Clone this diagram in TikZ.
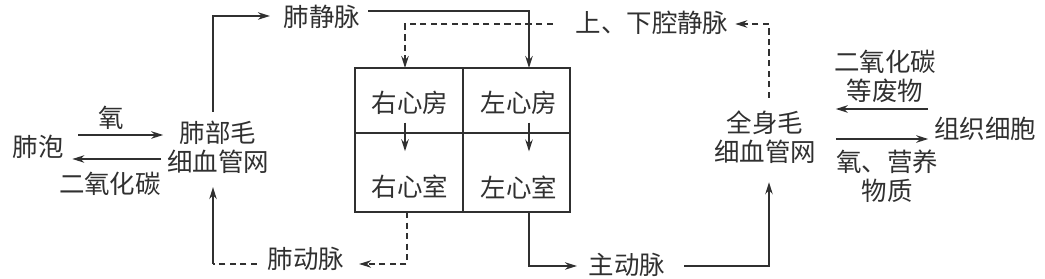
\documentclass[tikz,border=0pt]{standalone}
\usepackage{fontspec}
\setmainfont{Noto Sans CJK SC}
\usepackage{tikz}
\usetikzlibrary{arrows.meta,calc,positioning}
\definecolor{ink}{HTML}{303030}
\tikzset{organ/.style={font=\fontsize{14.5}{16.5}\selectfont,align=center,inner sep=2pt,text=ink}, note/.style={organ}, flowline/.style={draw=ink,line width=.8pt}, flow/.style={flowline,-{Stealth[length=2.4mm,width=1.5mm]}}, venous/.style={flowline,dash pattern=on 3.5pt off 2.5pt}, venousflow/.style={flow,dash pattern=on 3.5pt off 2.5pt}, heartwall/.style={draw=ink,line width=1pt}}

\begin{document}
\begin{tikzpicture}[x=.02cm,y=-.02cm]
\useasboundingbox (0,0) rectangle (1045,279);
\draw[heartwall] (355,68) rectangle (570,212);
\draw[heartwall] (463,68) -- (463,212) (355,133) -- (570,133);
\coordinate (ratop) at (405,68);
\coordinate (latop) at (529,68);
\coordinate (rvbot) at (407,212);
\coordinate (lvbot) at (529,212);
\node[organ] (ra) at (410,103) {右心房};
\node[organ] (la) at (519,103) {左心房};
\node[organ] (rv) at (410,187) {右心室};
\node[organ] (lv) at (519,187) {左心室};
\node[organ] (alv) at (38,147) {肺泡};
\node[organ] (lungcap) at (218,147) {肺部毛\\细血管网};
\node[organ] (pv) at (322,17) {肺静脉};
\node[organ] (pa) at (306,259) {肺动脉};
\node[organ] (vc) at (652,23) {上、下腔静脉};
\node[organ] (ao) at (627,265) {主动脉};
\node[organ] (bodycap) at (765,137) {全身毛\\细血管网};
\node[organ] (cell) at (985,129) {组织细胞};
\node[note] (o2) at (111,118) {氧};
\node[note] (co2) at (110,184) {二氧化碳};
\node[note] (waste) at (885,76) {二氧化碳\\等废物};
\node[note] (nutr) at (887,176) {氧、营养\\物质};
\draw[flow] ($(alv.east)+(11,-12)$) -- ($(lungcap.west)+(0,-12)$);
\draw[flow] ($(lungcap.west)+(-2,12)$) -- ($(alv.east)+(5,12)$);
\draw[flow] ($(lungcap.north)+(-5,-5)$) |- ($(pv.west)+(-10,-1)$);
\draw[flow] ($(pv.east)+(4,-6)$) -| (latop);
\draw[venousflow] ($(vc.west)+(-19,1)$) -| (ratop);
\draw[venousflow] ($(bodycap.north)+(4,-9)$) |- ($(vc.east)+(3,1)$);
\draw[flow] ($(ra.south -| ratop)+(0,4)$) -- ($(rv.north -| ratop)+(0,-20)$);
\draw[flow] ($(la.south -| latop)+(0,4)$) -- ($(lv.north -| latop)+(0,-20)$);
\draw[venousflow] (rvbot) |- ($(pa.east)+(11,5)$);
\draw[venous] ($(pa.west)+(-7,5)$) -- ($(lungcap.south |- pa.west)+(-5,5)$) coordinate (pabend);
\draw[flow] (pabend) -- ($(lungcap.south)+(-5,10)$);
\draw[flow] (lvbot) |- ($(ao.west)+(-8,1)$);
\draw[flow] ($(ao.east)+(15,1)$) -| ($(bodycap.south)+(4,15)$);
\draw[flow] ($(cell.west)+(-2,-20)$) -- ($(bodycap.east |- cell.west)+(16,-20)$);
\draw[flow] ($(bodycap.east |- cell.west)+(16,10)$) -- ($(cell.west)+(-2,10)$);
\end{tikzpicture}
\end{document}
